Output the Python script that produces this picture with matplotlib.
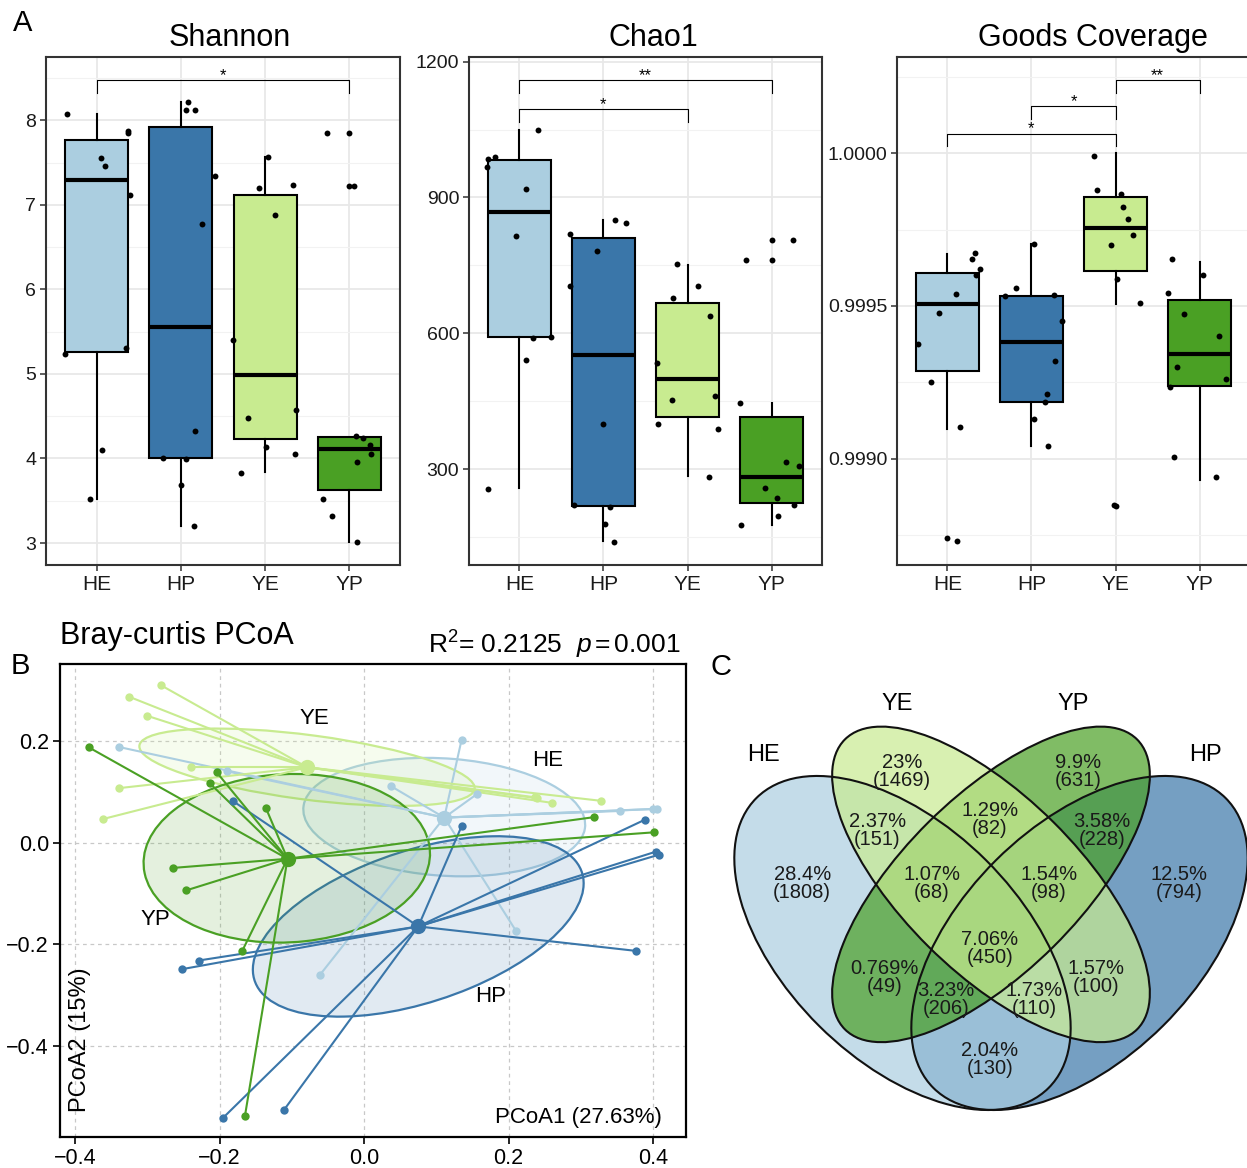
import matplotlib
matplotlib.use('Agg')
import matplotlib.pyplot as plt
import numpy as np
from matplotlib.patches import Ellipse
from matplotlib.colors import to_rgba

plt.rcParams['font.family'] = ['Liberation Sans', 'DejaVu Sans']
plt.rcParams['mathtext.fontset'] = 'custom'
plt.rcParams['mathtext.rm'] = 'Liberation Sans'
plt.rcParams['mathtext.it'] = 'Liberation Sans:italic'

groups = ['HE', 'HP', 'YE', 'YP']
colors = ['#abcee0', '#3a76a9', '#c8eb90', '#4aa024']

# ---- alpha diversity: box stats (HE, HP, YE, YP) and jittered samples
shannon_q1 = [5.26, 4.00, 4.23, 3.63]
shannon_med = [7.29, 5.56, 4.99, 4.11]
shannon_q3 = [7.77, 7.92, 7.12, 4.26]
shannon_lo = [3.52, 3.20, 3.84, 3.01]
shannon_hi = [8.07, 8.22, 7.57, 4.26]
shannon_pts = [[8.08, 7.55, 7.46, 7.88, 7.85, 7.12, 5.24, 5.31, 4.10, 3.52],
               [8.22, 8.12, 8.12, 7.34, 6.77, 4.33, 4.01, 3.99, 3.69, 3.20],
               [7.57, 7.20, 7.23, 6.88, 5.40, 4.48, 4.57, 4.14, 4.05, 3.83],
               [7.85, 7.85, 7.22, 7.22, 4.27, 4.24, 4.16, 4.05, 3.96, 3.52, 3.32, 3.01]]
shannon_jit = [[-0.35, 0.05, 0.10, 0.37, 0.37, 0.40, -0.38, 0.35, 0.07, -0.08],
               [0.09, 0.06, 0.17, 0.40, 0.25, 0.17, -0.21, 0.06, 0.0, 0.15],
               [0.03, -0.07, 0.33, 0.12, -0.38, -0.20, 0.37, 0.01, 0.35, -0.29],
               [-0.27, -0.01, 0.0, 0.06, 0.08, 0.16, 0.24, 0.26, 0.09, -0.31, -0.21, 0.09]]
shannon_sig = [(0, 3, '*', 8.48)]

chao_q1 = [593, 219, 415, 225]
chao_med = [868, 553, 499, 284]
chao_q3 = [982, 810, 668, 415]
chao_lo = [258, 142, 285, 178]
chao_hi = [1049, 850, 752, 447]
chao_pts = [[986, 990, 968, 1050, 919, 816, 591, 592, 541, 257],
            [851, 844, 820, 781, 705, 400, 222, 216, 179, 140],
            [753, 704, 679, 638, 535, 453, 463, 400, 390, 283],
            [807, 807, 763, 763, 447, 316, 308, 260, 236, 222, 198, 178]]
chao_jit = [[-0.37, -0.29, -0.38, 0.22, 0.08, -0.04, 0.16, 0.38, 0.08, -0.37],
            [0.14, 0.27, -0.40, -0.08, -0.40, 0.0, -0.35, 0.08, 0.02, 0.13],
            [-0.12, 0.13, -0.17, 0.27, -0.36, -0.19, 0.33, -0.35, 0.36, 0.26],
            [0.0, 0.25, -0.30, 0.0, -0.38, 0.17, 0.33, -0.08, 0.07, 0.27, 0.08, -0.36]]
chao_sig = [(0, 3, '**', 1159), (0, 2, '*', 1095)]

goods_q1 = [0.999288, 0.999184, 0.999616, 0.999239]
goods_med = [0.999507, 0.999383, 0.999754, 0.999343]
goods_q3 = [0.999609, 0.999534, 0.999857, 0.999519]
goods_lo = [0.999097, 0.999041, 0.999507, 0.998931]
goods_hi = [0.999671, 0.999704, 1.000000, 0.999643]
goods_pts = [[0.999675, 0.999653, 0.999622, 0.999600, 0.999538, 0.999477, 0.999376,
              0.999251, 0.999103, 0.998739, 0.998729],
             [0.999704, 0.999559, 0.999533, 0.999535, 0.999450, 0.999318, 0.999211,
              0.999184, 0.999129, 0.999041],
             [0.999992, 0.999881, 0.999867, 0.999826, 0.999784, 0.999732, 0.999701,
              0.999590, 0.999511, 0.998847, 0.998843],
             [0.999655, 0.999600, 0.999543, 0.999475, 0.999401, 0.999299, 0.999236,
              0.999261, 0.999006, 0.998940]]
goods_jit = [[0.33, 0.29, 0.39, 0.34, 0.10, -0.10, -0.35, -0.19, 0.15, 0.0, 0.11],
             [0.03, -0.19, -0.32, 0.27, 0.36, 0.28, 0.19, 0.16, 0.03, 0.20],
             [-0.26, -0.22, 0.06, 0.09, 0.15, 0.21, -0.05, 0.02, 0.29, -0.02, 0.0],
             [-0.33, 0.04, -0.37, -0.19, 0.23, -0.27, -0.35, 0.32, -0.31, 0.19]]
goods_sig = [(2, 3, '**', 1.000241), (1, 2, '*', 1.000154), (0, 2, '*', 1.000065)]

# ---- PCoA (Bray-curtis): samples, centroids, 95% ellipses
pc_x = [[-0.340, -0.190, 0.135, 0.037, 0.157, 0.354, 0.400, 0.405, 0.210, -0.061],
        [-0.181, 0.135, 0.389, 0.404, 0.408, 0.376, -0.229, -0.252, -0.195, -0.111],
        [-0.281, -0.326, -0.300, -0.240, -0.339, -0.362, 0.240, 0.260, 0.328, 0.236],
        [-0.381, -0.204, -0.214, -0.136, -0.265, -0.246, -0.169, -0.165, 0.319, 0.401]]
pc_y = [[0.188, 0.140, 0.202, 0.111, 0.096, 0.062, 0.066, 0.066, -0.173, -0.260],
        [0.081, 0.032, 0.045, -0.018, -0.024, -0.213, -0.232, -0.249, -0.541, -0.526],
        [0.309, 0.287, 0.249, 0.148, 0.107, 0.046, 0.087, 0.078, 0.082, 0.089],
        [0.187, 0.138, 0.117, 0.068, -0.050, -0.094, -0.214, -0.538, 0.050, 0.020]]
cent_x = [0.111, 0.075, -0.079, -0.106]
cent_y = [0.049, -0.165, 0.148, -0.032]
ell_cx = [0.111, 0.075, -0.079, -0.107]
ell_cy = [0.050, -0.165, 0.148, -0.031]
ell_a = [0.196, 0.253, 0.236, 0.199]
ell_b = [0.115, 0.141, 0.063, 0.165]
ell_ang = [-6.7, 30.8, -10.8, 8.6]
pc_label_x = [0.254, 0.175, -0.069, -0.289]
pc_label_y = [0.161, -0.303, 0.243, -0.152]

# ---- Venn (order: HE, YE, YP, HP)
venn_sets = ['HE', 'YE', 'YP', 'HP']
venn_cols = ['#abcee0', '#c8eb90', '#4aa024', '#3a76a9']
venn_pct = ['23%', '9.9%', '2.37%', '1.29%', '3.58%', '28.4%', '1.07%', '1.54%',
            '12.5%', '7.06%', '0.769%', '3.23%', '1.73%', '1.57%', '2.04%']
venn_cnt = [1469, 631, 151, 82, 228, 1808, 68, 98, 794, 450, 49, 206, 110, 100, 130]

W, H = 1247, 1168
fig = plt.figure(figsize=(W / 100, H / 100), dpi=100)


def px_axes(l, t, r, b):
    return fig.add_axes([l / W, 1 - b / H, (r - l) / W, (b - t) / H])


def box_panel(ax, q1, med, q3, lo, hi, pts, jit, ylim, major, minor, labels, sigs):
    pos = np.arange(1, 5)
    stats = [dict(q1=q1[i], med=med[i], q3=q3[i], whislo=lo[i], whishi=hi[i]) for i in range(4)]
    bp = ax.bxp(stats, positions=pos, widths=0.75, patch_artist=True, showfliers=False,
                showcaps=False, boxprops=dict(edgecolor='black', linewidth=1.5),
                medianprops=dict(color='black', linewidth=3.0, solid_capstyle='butt'),
                whiskerprops=dict(color='black', linewidth=1.5))
    for patch, c in zip(bp['boxes'], colors):
        patch.set_facecolor(c)
    for i in range(4):
        ax.scatter(pos[i] + np.array(jit[i]), pts[i], s=18, color='black', zorder=4, linewidths=0)
    rng = ylim[1] - ylim[0]
    for a, b, lab, yb in sigs:
        tip = 0.025 * rng
        ax.plot([pos[a], pos[a], pos[b], pos[b]], [yb - tip, yb, yb, yb - tip],
                color='black', lw=0.8)
        ax.text((pos[a] + pos[b]) / 2, yb, lab, ha='center', va='baseline', fontsize=12)
    ax.set_xlim(0.4, 4.6)
    ax.set_ylim(ylim)
    ax.set_xticks(pos, labels=groups)
    ax.set_yticks(major, labels=labels)
    ax.set_yticks(minor, minor=True)
    ax.set_axisbelow(True)
    ax.grid(True, which='major', color='#e8e8e8', lw=1.3)
    ax.grid(True, which='minor', axis='y', color='#f2f2f2', lw=0.8)
    ax.tick_params(which='major', length=4, width=1.1, color='#333333',
                   labelcolor='#1a1a1a', pad=3)
    ax.tick_params(axis='x', labelsize=15)
    ax.tick_params(axis='y', labelsize=14)
    ax.tick_params(which='minor', length=0)
    for s in ax.spines.values():
        s.set_color('#333333')
        s.set_linewidth(1.5)


ax1 = px_axes(46, 57, 400, 565)
box_panel(ax1, shannon_q1, shannon_med, shannon_q3, shannon_lo, shannon_hi, shannon_pts,
          shannon_jit, (2.74, 8.75), [3, 4, 5, 6, 7, 8], [3.5, 4.5, 5.5, 6.5, 7.5, 8.5],
          ['3', '4', '5', '6', '7', '8'], shannon_sig)
ax2 = px_axes(469, 57, 822, 565)
box_panel(ax2, chao_q1, chao_med, chao_q3, chao_lo, chao_hi, chao_pts, chao_jit,
          (89, 1210), [300, 600, 900, 1200], [150, 450, 750, 1050],
          ['300', '600', '900', '1200'], chao_sig)
ax3 = px_axes(897, 57, 1250, 565)
box_panel(ax3, goods_q1, goods_med, goods_q3, goods_lo, goods_hi, goods_pts, goods_jit,
          (0.998651, 1.000316), [0.9990, 0.9995, 1.0000], [0.99875, 0.99925, 0.99975, 1.00025],
          ['0.9990', '0.9995', '1.0000'], goods_sig)

fig.text(230 / W, 1 - 38 / H, 'Shannon', ha='center', va='center', fontsize=22)
fig.text(653 / W, 1 - 38 / H, 'Chao1', ha='center', va='center', fontsize=22)
fig.text(1093 / W, 1 - 38 / H, 'Goods Coverage', ha='center', va='center', fontsize=22)
fig.text(13 / W, 1 - 23 / H, 'A', ha='left', va='center', fontsize=21)

# ---- panel B
axb = px_axes(60, 664, 686, 1137)
for g in range(4):
    axb.add_patch(Ellipse((ell_cx[g], ell_cy[g]), 2 * ell_a[g], 2 * ell_b[g], angle=ell_ang[g],
                          facecolor=to_rgba(colors[g], 0.15), edgecolor=colors[g], lw=1.6,
                          zorder=1))
for g in range(4):
    for x, y in zip(pc_x[g], pc_y[g]):
        axb.plot([x, cent_x[g]], [y, cent_y[g]], color=colors[g], lw=1.5, zorder=2)
for g in range(4):
    axb.plot(pc_x[g], pc_y[g], 'o', color=colors[g], ms=6, mec='none', zorder=3)
    axb.plot(cent_x[g], cent_y[g], 'o', color=colors[g], ms=11, mec='none', zorder=4)
    axb.text(pc_label_x[g], pc_label_y[g], groups[g], ha='center', va='center', fontsize=16)
axb.set_xlim(-0.421, 0.4457)
axb.set_ylim(-0.579, 0.351)
xt = [-0.4, -0.2, 0.0, 0.2, 0.4]
yt = [-0.4, -0.2, 0.0, 0.2]
axb.set_xticks(xt, labels=[f'{v:.1f}'.replace('-', '\u2212') for v in xt])
axb.set_yticks(yt, labels=[f'{v:.1f}'.replace('-', '\u2212') for v in yt])
axb.grid(True, color='#c8c8c8', lw=0.9, ls=(0, (3, 3)))
axb.set_axisbelow(True)
axb.tick_params(length=5, width=1.2, labelsize=15.5, color='black', pad=3)
for s in axb.spines.values():
    s.set_linewidth(1.6)
axb.text(0.032, 0.053, 'PCoA2 (15%)', transform=axb.transAxes, rotation=90,
         ha='center', va='bottom', fontsize=17)
axb.text(0.962, 0.042, 'PCoA1 (27.63%)', transform=axb.transAxes, ha='right',
         va='center', fontsize=16)
fig.text(60 / W, 1 - 636 / H, 'Bray-curtis PCoA', ha='left', va='center', fontsize=22)
fig.text(680 / W, 1 - 645 / H, r'R$^2$= 0.2125  $p\,$=$\,$0.001', ha='right',
         va='center', fontsize=19)
fig.text(11 / W, 1 - 666 / H, 'B', ha='left', va='center', fontsize=21)

# ---- panel C: Venn
axc = px_axes(700, 650, 1247, 1168)
axc.set_xlim(0.0068, 0.9339)
axc.set_ylim(0.086, 0.970)
axc.axis('off')
venn_cx = [0.35, 0.5, 0.5, 0.65]
venn_cy = [0.47, 0.57, 0.57, 0.47]
venn_b = [0.2, 0.15, 0.15, 0.2]
venn_ang = [135, 135, 45, 45]
venn_z = [2, 4, 3, 1]
for i in range(4):
    axc.add_patch(Ellipse((venn_cx[i], venn_cy[i]), 0.7, 2 * venn_b[i], angle=venn_ang[i],
                          facecolor=venn_cols[i], alpha=0.7, edgecolor='none',
                          zorder=venn_z[i]))
for i in range(4):
    axc.add_patch(Ellipse((venn_cx[i], venn_cy[i]), 0.7, 2 * venn_b[i], angle=venn_ang[i],
                          facecolor='none', edgecolor='#111111', lw=1.5, zorder=6))
reg_u = [0.349, 0.647, 0.307, 0.498, 0.688, 0.180, 0.400, 0.598, 0.819, 0.498,
         0.319, 0.424, 0.573, 0.678, 0.498]
reg_v = [0.762, 0.762, 0.662, 0.681, 0.662, 0.571, 0.571, 0.571, 0.571, 0.461,
         0.411, 0.373, 0.373, 0.411, 0.272]
dv = 9 / 586
for u, v, p, c in zip(reg_u, reg_v, venn_pct, venn_cnt):
    axc.text(u, v + dv, p, ha='center', va='center', fontsize=14.5, color='#1a1a1a', zorder=7)
    axc.text(u, v - dv, f'({c})', ha='center', va='center', fontsize=14.5, color='#1a1a1a',
             zorder=7)
set_u = [0.114, 0.341, 0.639, 0.864]
set_v = [0.791, 0.878, 0.878, 0.791]
for u, v, s in zip(set_u, set_v, venn_sets):
    axc.text(u, v, s, ha='center', va='center', fontsize=17, zorder=7)
fig.text(711 / W, 1 - 667 / H, 'C', ha='left', va='center', fontsize=21)

fig.savefig('out.png', dpi=100)
